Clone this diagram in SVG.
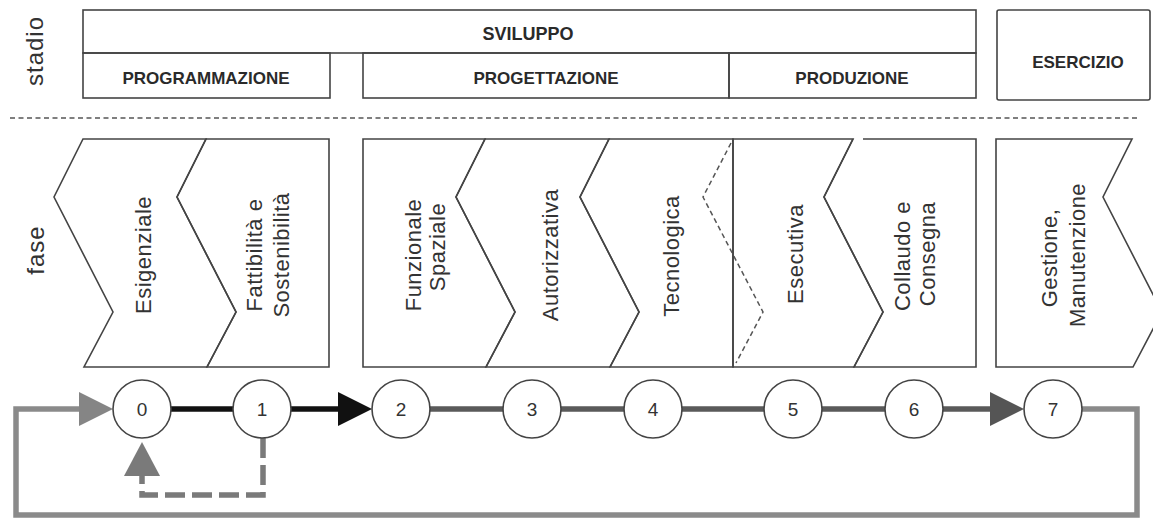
<svg xmlns="http://www.w3.org/2000/svg" width="1153" height="519" viewBox="0 0 1153 519">
  <style>
    .box { fill: none; stroke: #444; stroke-width: 1.6; }
    .head { font-family: "Liberation Sans", Arial, sans-serif; font-weight: bold; font-size: 17px; fill: #2a2a2a; text-anchor: middle; }
    .side { font-family: "Liberation Sans", Arial, sans-serif; font-size: 24px; fill: #333; text-anchor: middle; letter-spacing: 1px; }
    .phase { font-family: "Liberation Sans", Arial, sans-serif; font-size: 22px; fill: #333; text-anchor: middle; letter-spacing: 0.5px; }
    .sep { stroke: #555; stroke-width: 1.5; stroke-dasharray: 5 3.5; fill: none; }
    .node circle { fill: #fff; stroke: #444; stroke-width: 1.6; }
    .node text { font-family: "Liberation Sans", Arial, sans-serif; font-size: 19px; fill: #333; text-anchor: middle; }
    .flow { fill: none; stroke-width: 5.5; }
  </style>
  <defs>
    <marker id="arrow-black" markerUnits="userSpaceOnUse" markerWidth="34" markerHeight="34" refX="0" refY="17" orient="auto">
      <path d="M0,0 L34,17 L0,34 Z" fill="#111"/>
    </marker>
    <marker id="arrow-dark" markerUnits="userSpaceOnUse" markerWidth="34" markerHeight="34" refX="0" refY="17" orient="auto">
      <path d="M0,0 L34,17 L0,34 Z" fill="#555"/>
    </marker>
    <marker id="arrow-light" markerUnits="userSpaceOnUse" markerWidth="34" markerHeight="34" refX="0" refY="17" orient="auto">
      <path d="M0,0 L34,17 L0,34 Z" fill="#858585"/>
    </marker>
    <marker id="arrow-feedback" markerUnits="userSpaceOnUse" markerWidth="34" markerHeight="36" refX="0" refY="18" orient="auto">
      <path d="M0,0 L34,18 L0,36 Z" fill="#7a7a7a"/>
    </marker>
  </defs>

  <rect x="0" y="0" width="1153" height="519" fill="#fff"/>

  <!-- row labels -->
  <text class="side" transform="translate(43,51) rotate(-90)">stadio</text>
  <text class="side" transform="translate(44,250) rotate(-90)">fase</text>

  <!-- stages -->
  <g id="stage-sviluppo">
    <rect class="box" x="83" y="10" width="893" height="43"/>
    <text class="head" x="528" y="40" style="font-size:18px">SVILUPPO</text>
  </g>
  <g id="stage-programmazione">
    <rect class="box" x="83" y="53" width="247" height="45"/>
    <text class="head" x="206" y="84">PROGRAMMAZIONE</text>
  </g>
  <g id="stage-progettazione">
    <rect class="box" x="363" y="53" width="366" height="45"/>
    <text class="head" x="546" y="84">PROGETTAZIONE</text>
  </g>
  <g id="stage-produzione">
    <rect class="box" x="729" y="53" width="247" height="45"/>
    <text class="head" x="852" y="84">PRODUZIONE</text>
  </g>
  <g id="stage-esercizio">
    <rect class="box" x="997" y="10" width="153" height="90" rx="2"/>
    <text class="head" x="1078" y="68">ESERCIZIO</text>
  </g>

  <!-- stage / phase separator -->
  <line class="sep" x1="10" y1="118" x2="1137" y2="118"/>

  <!-- phases -->
  <g id="phase-esigenziale">
    <polygon class="box" points="83,139 206,139 177,197 236,312 207,367 84,367 113,312 54,197"/>
    <text class="phase" transform="translate(151,255) rotate(-90)">Esigenziale</text>
  </g>
  <g id="phase-fattibilita">
    <polygon class="box" points="206,139 329,139 329,367 207,367 236,312 177,197"/>
    <text class="phase" transform="rotate(-90) translate(-255,0)"><tspan x="0" y="262">Fattibilità e</tspan><tspan x="0" y="289">Sostenibilità</tspan></text>
  </g>
  <g id="phase-funzionale">
    <polygon class="box" points="363,139 485,139 456,197 515,312 486,367 363,367"/>
    <text class="phase" transform="rotate(-90)"><tspan x="-255" y="421">Funzionale</tspan><tspan x="-247" y="445">Spaziale</tspan></text>
  </g>
  <g id="phase-autorizzativa">
    <polygon class="box" points="485,139 609,139 580,197 639,312 610,367 486,367 515,312 456,197"/>
    <text class="phase" transform="translate(558,255) rotate(-90)">Autorizzativa</text>
  </g>
  <g id="phase-tecnologica">
    <polygon class="box" points="609,139 733,139 733,367 610,367 639,312 580,197"/>
    <polyline class="sep" points="731,143 703,197 763,312 736,363"/>
    <text class="phase" transform="translate(679,256) rotate(-90)">Tecnologica</text>
  </g>
  <g id="phase-esecutiva">
    <polygon class="box" points="733,139 853,139 824,197 883,312 854,367 733,367"/>
    <text class="phase" transform="translate(803,254) rotate(-90)">Esecutiva</text>
  </g>
  <g id="phase-collaudo">
    <path class="box" d="M863,139 H976 V367 H854 L883,312 L824,197 L853,139"/>
    <text class="phase" transform="rotate(-90)"><tspan x="-256" y="910">Collaudo e</tspan><tspan x="-254" y="935">Consegna</tspan></text>
  </g>
  <g id="phase-gestione">
    <polygon class="box" points="996,139 1132,139 1103,197 1162,312 1133,367 996,367"/>
    <text class="phase" transform="rotate(-90)"><tspan x="-258" y="1057">Gestione,</tspan><tspan x="-255" y="1085">Manutenzione</tspan></text>
  </g>

  <!-- connectors -->
  <g id="connectors">
    <path class="flow" d="M171,409 H233" stroke="#111"/>
    <path class="flow" d="M291,409 H338" stroke="#111" marker-end="url(#arrow-black)"/>
    <path class="flow" d="M430,409 H503 M561,409 H624 M682,409 H764 M822,409 H885" stroke="#5a5a5a"/>
    <path class="flow" d="M943,409 H990" stroke="#5a5a5a" marker-end="url(#arrow-dark)"/>
    <path class="flow" d="M1082,409 H1137 V515 H16 V409 H79" stroke="#8a8a8a" stroke-width="5" marker-end="url(#arrow-light)"/>
    <path class="flow" d="M263,438 V495 H142 V476" stroke="#7a7a7a" stroke-width="5" stroke-dasharray="20 7" marker-end="url(#arrow-feedback)"/>
  </g>

  <!-- milestones -->
  <g id="node-0" class="node"><circle cx="142" cy="409" r="29"/><text x="142" y="416">0</text></g>
  <g id="node-1" class="node"><circle cx="262" cy="409" r="29"/><text x="262" y="416">1</text></g>
  <g id="node-2" class="node"><circle cx="401" cy="409" r="29"/><text x="401" y="416">2</text></g>
  <g id="node-3" class="node"><circle cx="532" cy="409" r="29"/><text x="532" y="416">3</text></g>
  <g id="node-4" class="node"><circle cx="653" cy="409" r="29"/><text x="653" y="416">4</text></g>
  <g id="node-5" class="node"><circle cx="793" cy="409" r="29"/><text x="793" y="416">5</text></g>
  <g id="node-6" class="node"><circle cx="914" cy="409" r="29"/><text x="914" y="416">6</text></g>
  <g id="node-7" class="node"><circle cx="1053" cy="409" r="29"/><text x="1053" y="416">7</text></g>
</svg>
